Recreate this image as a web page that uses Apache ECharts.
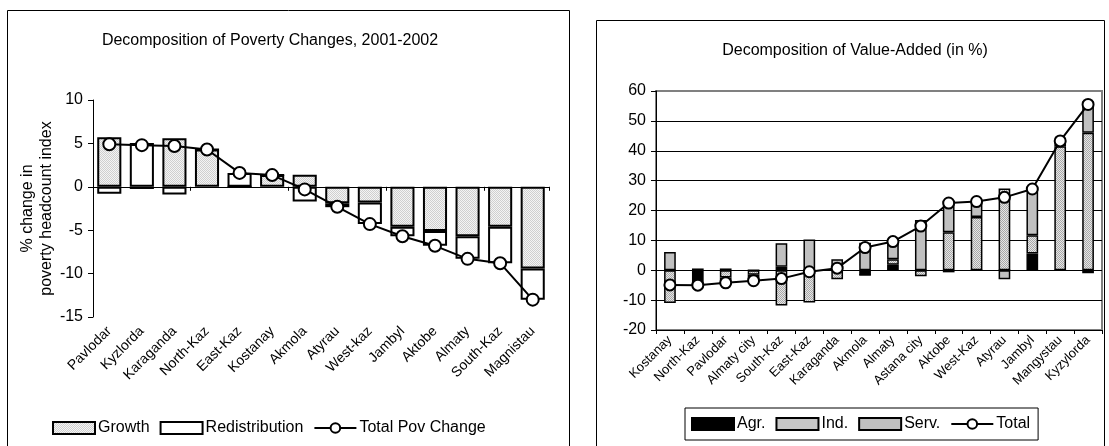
<!DOCTYPE html>
<html>
<head>
<meta charset="utf-8">
<script src="https://cdn.jsdelivr.net/npm/echarts@6/dist/echarts.min.js"></script>
<style>
  html, body { margin: 0; padding: 0; background: #fff; }
  #chart { width: 1109px; height: 446px; }
</style>
</head>
<body>
<div id="chart"></div>
<script>
// Poverty decomposition, 2001-2002 (percentage points)
const povRegions = ['Pavlodar', 'Kyzlorda', 'Karaganda', 'North-Kaz', 'East-Kaz', 'Kostanay', 'Akmola',
  'Atyrau', 'West-kaz', 'Jambyl', 'Aktobe', 'Almaty', 'South-Kaz', 'Magnistau'];
const povGrowth = [5.7, -0.25, 5.6, 4.3, 0.0, 1.35, 1.4, -1.9, -1.8, -4.6, -5.1, -5.7, -4.6, -9.4];
const povRedistribution = [-0.8, 5.05, -0.9, 0.0, 1.6, 0.0, -1.7, -0.45, -2.5, -1.1, -1.7, -2.6, -4.2, -3.6];
const povTotal = [4.9, 4.8, 4.7, 4.3, 1.6, 1.35, -0.3, -2.3, -4.3, -5.7, -6.8, -8.3, -8.8, -13.0];
const povAxis = { min: -15, max: 10, step: 5 };

// Value-added decomposition by sector (in %)
const vaRegions = ['Kostanay', 'North-Kaz', 'Pavlodar', 'Almaty city', 'South-Kaz', 'East-Kaz', 'Karaganda',
  'Akmola', 'Almaty', 'Astana city', 'Aktobe', 'West-Kaz', 'Atyrau', 'Jambyl', 'Mangystau', 'Kyzylorda'];
const vaAgr = [0, -4.8, 0.6, 0, 1.2, 0, 0, -1.6, 1.8, 0, -0.7, 0, 0, 5.6, 0, -1.0];
const vaInd = [-11.0, -0.8, -2.4, -1.5, -11.8, -10.8, -3.0, 0, 1.9, -2.0, 12.7, 17.8, 27.4, 6.1, 41.5, 46.0];
const vaServ = [6.1, 0.6, -2.4, -2.0, 7.8, 10.3, 3.7, 9.2, 5.9, 16.8, 10.5, 5.2, -3.0, 15.5, 1.8, 10.5];
const vaTotal = [-4.9, -5.0, -4.2, -3.5, -2.8, -0.5, 0.7, 7.6, 9.6, 14.8, 22.5, 23.0, 24.4, 27.2, 43.3, 55.5];
const vaAxis = { min: -20, max: 60, step: 10 };

const FONT = 'Liberation Sans, Arial, sans-serif';

// small checkerboard used as a stipple fill
function stipple(dark, light) {
  const c = document.createElement('canvas');
  c.width = 2; c.height = 2;
  const g = c.getContext('2d');
  g.fillStyle = light; g.fillRect(0, 0, 2, 2);
  g.fillStyle = dark; g.fillRect(0, 0, 1, 1); g.fillRect(1, 1, 1, 1);
  return { image: c, repeat: 'repeat' };
}
const povStipple = stipple('#cfcfcf', '#f4f4f4');
const vaStipple = stipple('#a8a8a8', '#e6e6e6');

const chart = echarts.init(document.getElementById('chart'), null, { renderer: 'canvas' });

const txt = { color: '#000', fontFamily: FONT };

chart.setOption({
  animation: false,
  backgroundColor: '#fff',
  textStyle: { fontFamily: FONT, color: '#000' },
  graphic: [
    { type: 'rect', shape: { x: 7.5, y: 10.5, width: 562, height: 440 }, style: { fill: 'none', stroke: '#000', lineWidth: 1 }, z: -10 },
    { type: 'rect', shape: { x: 596.5, y: 20.5, width: 508, height: 430 }, style: { fill: 'none', stroke: '#000', lineWidth: 1 }, z: -10 }
  ],
  title: [
    { text: 'Decomposition of Poverty Changes, 2001-2002', left: 265, top: 28, textAlign: 'center',
      textStyle: Object.assign({ fontSize: 16, fontWeight: 'normal' }, txt) },
    { text: 'Decomposition of Value-Added (in %)', left: 850, top: 38, textAlign: 'center',
      textStyle: Object.assign({ fontSize: 16, fontWeight: 'normal' }, txt) }
  ],
  legend: [
    {
      left: 47, top: 415, itemWidth: 42, itemHeight: 12, itemGap: 10,
      textStyle: Object.assign({ fontSize: 16, padding: [0, 0, 0, -2] }, txt),
      data: [
        { name: 'Growth', icon: 'rect' },
        { name: 'Redistribution', icon: 'rect' },
        { name: 'Total Pov Change' }
      ]
    },
    {
      left: 685, top: 408, itemWidth: 42, itemHeight: 12, itemGap: 10,
      borderColor: '#000', borderWidth: 1, padding: [8, 8, 8, 6],
      textStyle: Object.assign({ fontSize: 16, padding: [0, 0, 0, -2] }, txt),
      data: [
        { name: 'Agr.', icon: 'rect' },
        { name: 'Ind.', icon: 'rect' },
        { name: 'Serv.', icon: 'rect' },
        { name: 'Total' }
      ]
    }
  ],
  grid: [
    { left: 93, top: 100, width: 456, height: 217, containLabel: false },
    { left: 656, top: 91, width: 446, height: 239, containLabel: false,
      show: true, borderColor: '#808080', borderWidth: 2, backgroundColor: 'transparent' }
  ],
  xAxis: [
    // zero line with category ticks
    { type: 'category', gridIndex: 0, data: povRegions, position: 'bottom',
      axisLine: { onZero: true, lineStyle: { color: '#000', width: 1 } },
      axisTick: { show: true, inside: false, length: 4, lineStyle: { color: '#000' } },
      axisLabel: { show: false }, splitLine: { show: false } },
    // category names along the bottom of the plot
    { type: 'category', gridIndex: 0, data: povRegions, position: 'bottom',
      axisLine: { show: false, onZero: false }, axisTick: { show: false },
      axisLabel: Object.assign({ rotate: 45, fontSize: 14, margin: 12, interval: 0 }, txt) },
    { type: 'category', gridIndex: 1, data: vaRegions, position: 'bottom',
      axisLine: { onZero: false, lineStyle: { color: '#000', width: 1 } },
      axisTick: { show: true, inside: false, length: 4, lineStyle: { color: '#000' } },
      axisLabel: Object.assign({ rotate: 45, fontSize: 13, margin: 8, interval: 0 }, txt) }
  ],
  yAxis: [
    { type: 'value', gridIndex: 0, min: povAxis.min, max: povAxis.max, interval: povAxis.step,
      name: '% change in\npoverty headcount index', nameLocation: 'middle', nameGap: 36,
      nameTextStyle: Object.assign({ fontSize: 16, lineHeight: 19 }, txt),
      axisLine: { show: true, lineStyle: { color: '#000' } },
      axisTick: { show: true, length: 5, lineStyle: { color: '#000' } },
      axisLabel: Object.assign({ fontSize: 16, margin: 10 }, txt),
      splitLine: { show: false } },
    { type: 'value', gridIndex: 1, min: vaAxis.min, max: vaAxis.max, interval: vaAxis.step,
      axisLine: { show: true, lineStyle: { color: '#000' } },
      axisTick: { show: true, length: 5, lineStyle: { color: '#000' } },
      axisLabel: Object.assign({ fontSize: 16, margin: 10 }, txt),
      splitLine: { show: true, showMaxLine: false, showMinLine: false, lineStyle: { color: '#000', width: 1 } } }
  ],
  series: [
    { name: 'Growth', type: 'bar', xAxisIndex: 0, yAxisIndex: 0, stack: 'pov', barWidth: '74%',
      data: povGrowth, itemStyle: { color: povStipple, borderColor: '#000', borderWidth: 2 } },
    { name: 'Redistribution', type: 'bar', xAxisIndex: 0, yAxisIndex: 0, stack: 'pov', barWidth: '74%',
      data: povRedistribution, itemStyle: { color: '#fff', borderColor: '#000', borderWidth: 2 } },
    { name: 'Total Pov Change', type: 'line', xAxisIndex: 0, yAxisIndex: 0, data: povTotal,
      symbol: 'circle', symbolSize: 12, z: 5,
      lineStyle: { color: '#000', width: 2 },
      itemStyle: { color: '#fff', borderColor: '#000', borderWidth: 2 } },

    { name: 'Agr.', type: 'bar', xAxisIndex: 2, yAxisIndex: 1, stack: 'va', barWidth: '42%',
      data: vaAgr, itemStyle: { color: '#000', borderColor: '#000', borderWidth: 1.5 } },
    { name: 'Ind.', type: 'bar', xAxisIndex: 2, yAxisIndex: 1, stack: 'va', barWidth: '42%',
      data: vaInd, itemStyle: { color: vaStipple, borderColor: '#000', borderWidth: 1.5 } },
    { name: 'Serv.', type: 'bar', xAxisIndex: 2, yAxisIndex: 1, stack: 'va', barWidth: '42%',
      data: vaServ, itemStyle: { color: '#c0c0c0', borderColor: '#000', borderWidth: 1.5 } },
    { name: 'Total', type: 'line', xAxisIndex: 2, yAxisIndex: 1, data: vaTotal,
      symbol: 'circle', symbolSize: 11, z: 5,
      lineStyle: { color: '#000', width: 2 },
      itemStyle: { color: '#fff', borderColor: '#000', borderWidth: 2 } }
  ]
});
</script>
</body>
</html>
